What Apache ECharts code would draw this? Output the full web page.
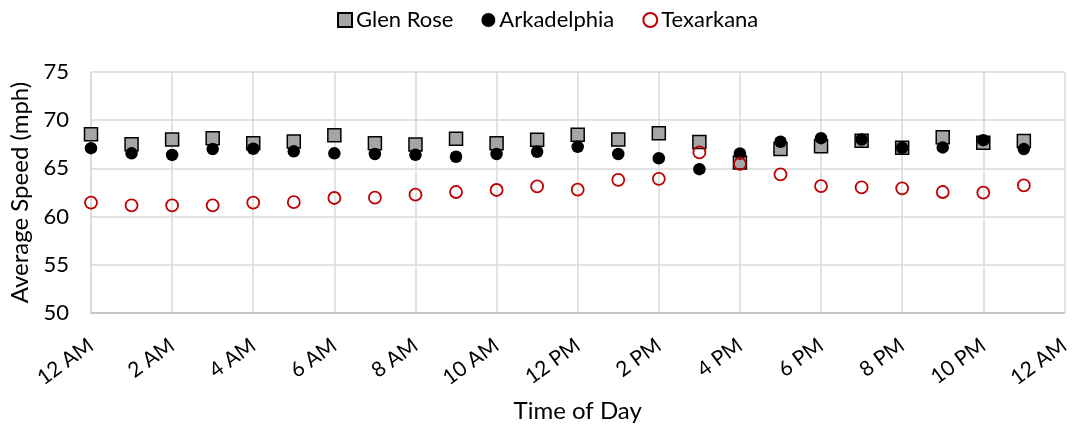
<!DOCTYPE html>
<html>
<head>
<meta charset="utf-8">
<script src="https://cdn.jsdelivr.net/npm/echarts@6/dist/echarts.min.js"></script>
<style>
html,body{margin:0;padding:0;background:#fff;}
#chart{width:1073px;height:428px;}
</style>
</head>
<body>
<div id="chart"></div>
<script>
// Data (hour of day 0..23)
const hours = [0,1,2,3,4,5,6,7,8,9,10,11,12,13,14,15,16,17,18,19,20,21,22,23];
const glenRose = [68.55,67.5,68.0,68.14,67.6,67.8,68.44,67.62,67.49,68.07,67.62,67.96,68.48,68.0,68.65,67.73,65.62,67.0,67.31,67.86,67.14,68.24,67.66,67.83];
const arkadelphia = [67.1,66.56,66.4,67.0,67.04,66.77,66.56,66.49,66.42,66.21,66.49,66.73,67.24,66.49,66.05,64.92,66.55,67.76,68.14,68.0,67.14,67.18,67.93,67.0];
const texarkana = [61.45,61.17,61.17,61.17,61.45,61.5,61.93,61.96,62.27,62.55,62.76,63.13,62.79,63.82,63.92,66.66,65.48,64.37,63.17,63.03,62.93,62.55,62.48,63.23];
const tickLabels = ['12 AM','2 AM','4 AM','6 AM','8 AM','10 AM','12 PM','2 PM','4 PM','6 PM','8 PM','10 PM','12 AM'];
const seriesNames = ['Glen Rose','Arkadelphia','Texarkana'];

const FONT = 'Lato';
const chart = echarts.init(document.getElementById('chart'), null, {renderer:'canvas'});
const pair = arr => hours.map((h,i)=>[h, arr[i]]);

chart.setOption({
  animation:false,
  backgroundColor:'#fff',
  textStyle:{fontFamily:FONT},
  legend:{
    top:4, left:332,
    itemWidth:14, itemHeight:14, itemGap:28,
    textStyle:{fontFamily:FONT,fontSize:22,color:'#000',padding:[0,0,0,-1]},
    data:seriesNames
  },
  grid:{left:91,right:5,top:72,bottom:113},
  xAxis:{
    type:'value', min:0, max:24, interval:2,
    name:'Time of Day', nameLocation:'middle', nameGap:86,
    nameTextStyle:{fontFamily:FONT,fontSize:24,color:'#000',verticalAlign:'top'},
    axisLine:{show:true,lineStyle:{color:'#bfbfbf',width:1.5}},
    axisTick:{show:false},
    splitLine:{show:true,lineStyle:{color:'#d9d9d9',width:1.5}},
    axisLabel:{
      rotate:36, margin:30, fontFamily:FONT, fontSize:21, color:'#000',
      formatter:v=>tickLabels[Math.round(v/2)]
    }
  },
  yAxis:{
    type:'value', min:50, max:75, interval:5,
    name:'Average Speed (mph)', nameLocation:'middle', nameGap:56,
    nameTextStyle:{fontFamily:FONT,fontSize:24,color:'#000'},
    axisLine:{show:true,lineStyle:{color:'#d9d9d9',width:1.5}},
    axisTick:{show:false},
    splitLine:{show:true,lineStyle:{color:'#d9d9d9',width:1.5}},
    axisLabel:{margin:22,fontFamily:FONT,fontSize:22,color:'#000'}
  },
  series:[
    {name:seriesNames[0],type:'scatter',symbol:'rect',symbolSize:13,
     itemStyle:{color:'#a5a5a5',borderColor:'#000',borderWidth:1.5,opacity:1},
     emphasis:{disabled:true},data:pair(glenRose),z:2},
    {name:seriesNames[1],type:'scatter',symbol:'circle',symbolSize:12.5,
     itemStyle:{color:'#000',opacity:1},
     emphasis:{disabled:true},data:pair(arkadelphia),z:3},
    {name:seriesNames[2],type:'scatter',symbol:'circle',symbolSize:12,
     itemStyle:{color:'rgba(255,255,255,0)',borderColor:'#c00000',borderWidth:1.8,opacity:1},
     emphasis:{disabled:true},data:pair(texarkana),z:4}
  ]
});
</script>
</body>
</html>
